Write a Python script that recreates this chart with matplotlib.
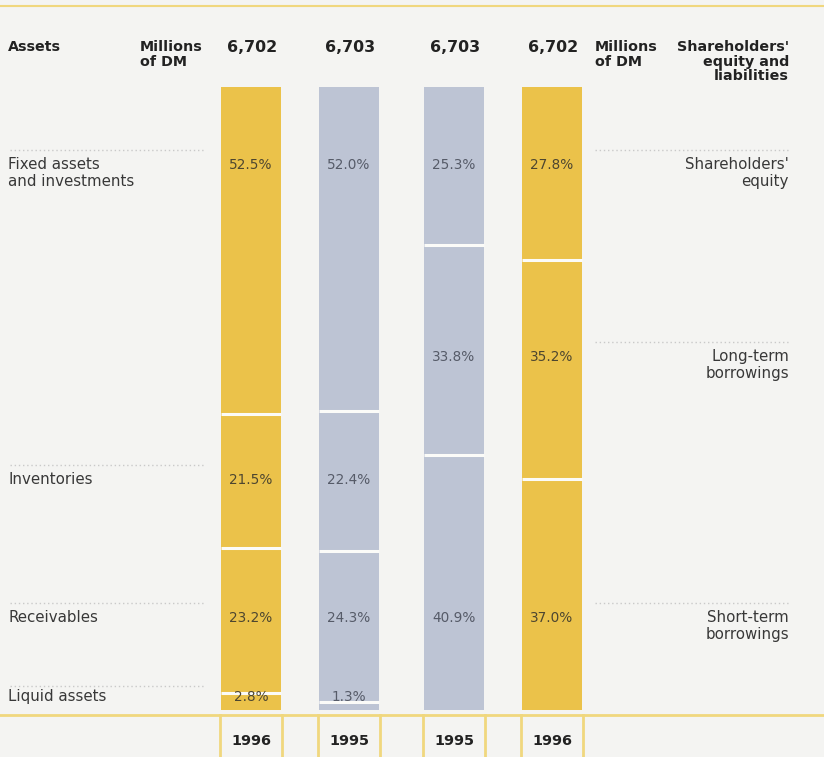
import numpy as np
import matplotlib.pyplot as plt

# balance sheet structure, percent of total
years = ["1996", "1995", "1995", "1996"]
totals = ["6,702", "6,703", "6,703", "6,702"]
asset_names = ["Liquid assets", "Receivables", "Inventories", "Fixed assets\nand investments"]
assets_1996 = [2.8, 23.2, 21.5, 52.5]
assets_1995 = [1.3, 24.3, 22.4, 52.0]
liab_names = ["Short-term\nborrowings", "Long-term\nborrowings", "Shareholders'\nequity"]
liab_1995 = [40.9, 33.8, 25.3]
liab_1996 = [37.0, 35.2, 27.8]

yellow = "#ebc24a"
grey = "#bdc4d4"
bg = "#f4f4f2"
line_yellow = "#f0d77e"
sep = "#fbfbf8"

W, H = 824, 757
fig = plt.figure(figsize=(W / 100, H / 100), dpi=100, facecolor=bg)
plt.rcParams["font.family"] = "DejaVu Sans"

# overlay in pixel coordinates for text and rules
ov = fig.add_axes([0, 0, 1, 1])
ov.set_xlim(0, W)
ov.set_ylim(H, 0)
ov.axis("off")
ov.set_zorder(2)
ov.patch.set_alpha(0)

# bar axes: y in percent
y0, y1 = 710, 87
ax = fig.add_axes([0, (H - y0) / H, 1, (y0 - y1) / H])
ax.set_xlim(0, W)
ax.set_ylim(0, 100)
ax.axis("off")
ax.patch.set_alpha(0)

centers = [251, 349, 454, 552]
series = [assets_1996, assets_1995, liab_1995, liab_1996]
colors = [yellow, grey, grey, yellow]
txtcol = {yellow: "#4d4630", grey: "#565b68"}

for xc, vals, c in zip(centers, series, colors):
    bottom = 0
    for v in vals:
        ax.bar(xc, v, bottom=bottom, width=60, color=c, linewidth=0)
        bottom += v
    # white gaps between segments
    edges = np.cumsum(vals)[:-1]
    ax.hlines(edges, xc - 30, xc + 30, color=sep, lw=2.2)

# percentage labels at the row heights
asset_rows = [697, 618, 480, 165]
liab_rows = [618, 357, 165]
for xc, vals, c, rows in zip(centers, series, colors,
                             [asset_rows, asset_rows, liab_rows, liab_rows]):
    for v, yy in zip(vals, rows):
        ov.text(xc, yy, f"{v:.1f}%", ha="center", va="center", fontsize=9.8,
                color=txtcol[c])

# row labels
for name, yy in zip(asset_names, asset_rows):
    ov.text(8, yy - 8, name, ha="left", va="top", fontsize=10.8, color="#383838",
            linespacing=1.15)
for name, yy in zip(liab_names, liab_rows):
    ov.text(789, yy - 8, name, ha="right", va="top", fontsize=10.8, color="#383838",
            linespacing=1.15)

# dotted separators
for yy in [150, 465, 603, 686]:
    ov.plot([10, 205], [yy, yy], color="#c9c9c9", lw=1.0, ls=(0, (1, 2)))
for yy in [150, 342, 603]:
    ov.plot([595, 790], [yy, yy], color="#c9c9c9", lw=1.0, ls=(0, (1, 2)))

# header
hd = dict(ha="left", va="top", fontsize=10.3, weight="bold", color="#222222", linespacing=1.05)
ov.text(8, 40, "Assets", **hd)
ov.text(140, 40, "Millions\nof DM", **hd)
ov.text(595, 40, "Millions\nof DM", **hd)
ov.text(789, 40, "Shareholders'\nequity and\nliabilities", **dict(hd, ha="right"))
for xc, t in zip(centers, totals):
    ov.text(xc + 1, 47, t, ha="center", va="center", fontsize=11.4, weight="bold",
            color="#222222")

# top and bottom rules
ov.plot([0, W], [6, 6], color=line_yellow, lw=1.5)
ov.plot([0, W], [715, 715], color=line_yellow, lw=2)
for xc in centers:
    for dx in (-31, 31):
        ov.plot([xc + dx, xc + dx], [715, H], color=line_yellow, lw=2)

for xc, yr in zip(centers, years):
    ov.text(xc, 741, yr, ha="center", va="center", fontsize=10.4, weight="bold",
            color="#222222")

fig.savefig("out.png", dpi=100, facecolor=bg)
